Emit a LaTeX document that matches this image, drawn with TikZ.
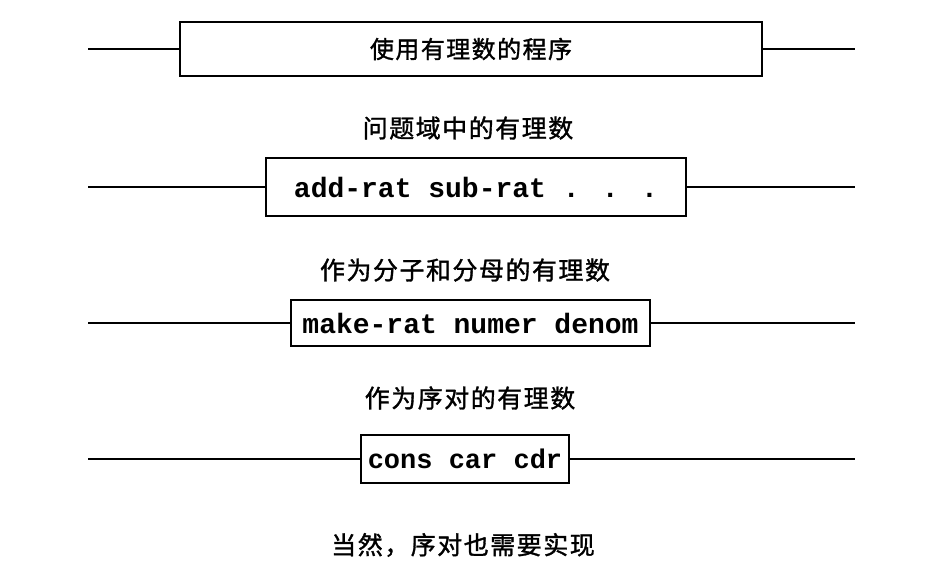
\documentclass[tikz,border=0pt]{standalone}
\usepackage{fontspec}
\usepackage{tikz}
\usetikzlibrary{positioning}
\newfontfamily\cjk[LetterSpace=6,FakeBold=1.3]{Noto Sans CJK SC}
\newfontfamily\codefont{Liberation Mono}
\tikzset{
  layer/.style={draw, line width=1.6pt, inner sep=0pt},
  caption/.style={font=\cjk\fontsize{25}{28}\selectfont},
  wire/.style={line width=1.6pt},
}

\begin{document}
\begin{tikzpicture}[x=1pt, y=-1pt]
      \useasboundingbox (0,0) rectangle (929,579);

      \node [layer, minimum width=582pt, minimum height=54pt,
        font=\cjk\fontsize{24}{27}\selectfont] (prog) at (471,49) {使用有理数的程序};
      \node [caption] (dom) at (468,128) {问题域中的有理数};
      \node [layer, minimum width=420pt, minimum height=58pt,
        font=\codefont\bfseries\fontsize{28}{30}\selectfont] (ops) at (476,187) {add-rat sub-rat . . .};
      \node [caption] (frac) at (465,270) {作为分子和分母的有理数};
      \node [layer, minimum width=359pt, minimum height=46pt,
        font=\codefont\bfseries\fontsize{28}{30}\selectfont] (ctor) at (470.5,323) {make-rat numer denom};
      \node [caption] (pairs) at (470,398) {作为序对的有理数};
      \node [layer, minimum width=208pt, minimum height=48pt,
        font=\codefont\bfseries\fontsize{27}{30}\selectfont] (cons) at (465,459) {cons car cdr};
      \node [caption] (impl) at (463,545) {当然，序对也需要实现};

      \coordinate (l1) at (88,49);  \coordinate (r1) at (855,49);
      \coordinate (l2) at (88,187); \coordinate (r2) at (855,187);
      \coordinate (l3) at (88,323); \coordinate (r3) at (855,323);
      \coordinate (l4) at (88,459); \coordinate (r4) at (855,459);

      \draw [wire] (l1) -- (prog.west);
      \draw [wire] (prog.east) -- (r1);
      \draw [wire] (l2) -- (ops.west);
      \draw [wire] (ops.east) -- (r2);
      \draw [wire] (l3) -- (ctor.west);
      \draw [wire] (ctor.east) -- (r3);
      \draw [wire] (l4) -- (cons.west);
      \draw [wire] (cons.east) -- (r4);

    \end{tikzpicture}
\end{document}
